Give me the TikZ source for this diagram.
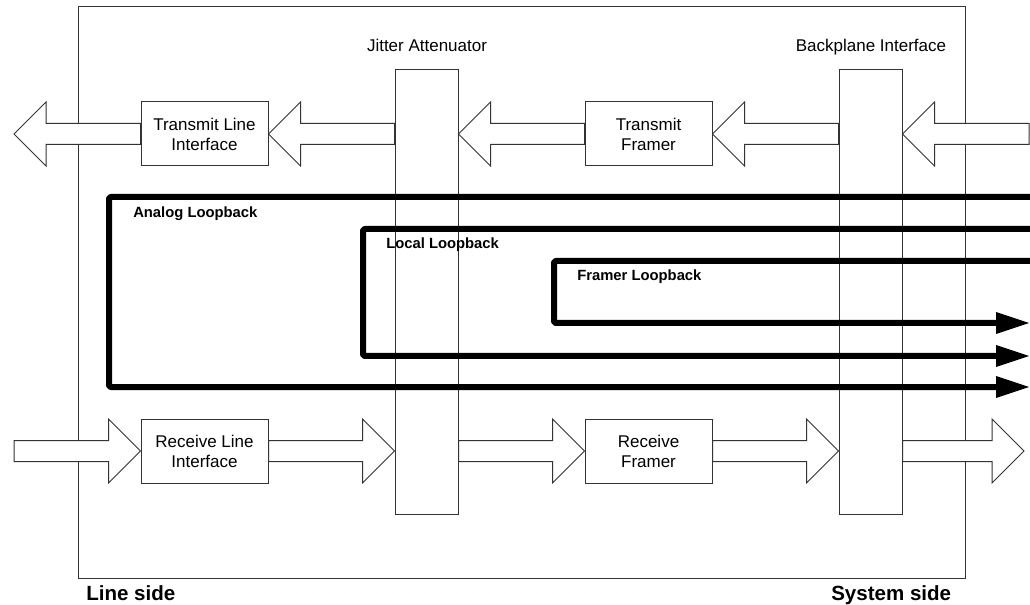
\documentclass[tikz,border=0pt]{standalone}
\usepackage{fontspec}
\setmainfont{Liberation Sans}
\usetikzlibrary{calc}
\newcommand\fatarrow[2]{%
  \filldraw[fat] let \p1=(#1), \p2=(#2), \n1={sign(\x1-\x2)} in
    (\x1,{\y2+7.875pt}) -- ({\x2+(\n1)*24pt},{\y2+7.875pt}) -- ({\x2+(\n1)*24pt},{\y2+24pt})
    -- (\x2,\y2) -- ({\x2+(\n1)*24pt},{\y2-24pt}) -- ({\x2+(\n1)*24pt},{\y2-7.875pt})
    -- (\x1,{\y2-7.875pt}) -- cycle;}
\newcommand\loophead[1]{\fill (#1) -- ++(-24.75pt,8.25pt) -- ++(0,-16.5pt) -- cycle;}
\begin{document}
\begin{tikzpicture}[x=0.75pt,y=-0.75pt,
  thinln/.style={draw=black!80, line width=0.75pt},
  blk/.style={thinln, inner sep=0pt, align=center, font=\fontsize{12.75}{15}\selectfont},
  fat/.style={draw=black!80, fill=white, line width=0.75pt, line join=miter},
  lb/.style={line width=4.5pt, line join=round, rounded corners=1.5pt},
  lbl/.style={font=\bfseries\fontsize{11.1}{13}\selectfont, anchor=base west, inner sep=0pt},
  side/.style={font=\bfseries\fontsize{15.4}{18}\selectfont, anchor=base west, inner sep=0pt},
  captext/.style={font=\fontsize{12.75}{15}\selectfont, inner sep=0pt, anchor=base}]
\useasboundingbox (0,0) rectangle (1030,605);
% frame
\node[thinln, minimum width=665.25pt, minimum height=428.25pt, inner sep=0pt] (frame) at (521.5,292.5) {};
% captions
\node[captext] (jal) at (427,52) {Jitter Attenuator};
\node[captext] (bpl) at (871,52) {Backplane Interface};
% blocks
\node[blk, minimum width=95.25pt, minimum height=48pt] (tli) at (204.5,134) {Transmit Line\\Interface};
\node[blk, minimum width=95.25pt, minimum height=48pt] (tf) at (648.5,134) {Transmit\\Framer};
\node[blk, minimum width=95.25pt, minimum height=48pt] (rli) at (204.5,451) {Receive Line\\Interface};
\node[blk, minimum width=95.25pt, minimum height=48pt] (rf) at (648.5,451) {Receive\\Framer};
\node[thinln, inner sep=0pt, minimum width=47.25pt, minimum height=333pt] (ja) at (426.5,292) {};
\node[thinln, inner sep=0pt, minimum width=47.25pt, minimum height=333pt] (bp) at (870.5,292) {};
% loopbacks
\coordinate (aIn) at (1031,197); \coordinate (aTL) at (109,197); \coordinate (aOut) at (1029,387);
\coordinate (lIn) at (1031,229); \coordinate (lTL) at (363,229); \coordinate (lOut) at (1029,356);
\coordinate (fIn) at (1031,261); \coordinate (fTL) at (554,261); \coordinate (fOut) at (1029,323);
\draw[lb] (aIn) -- (aTL) |- ([xshift=-20pt]aOut);
\draw[lb] (lIn) -- (lTL) |- ([xshift=-20pt]lOut);
\draw[lb] (fIn) -- (fTL) |- ([xshift=-20pt]fOut);
\loophead{aOut}
\loophead{lOut}
\loophead{fOut}
\node[lbl] (alab) at (133,218) {Analog Loopback};
\node[lbl] (llab) at (386,249) {Local Loopback};
\node[lbl] (flab) at (577,281) {Framer Loopback};
% side labels
\node[side] (ls) at (86,600) {Line side};
\node[side] (ss) at (831,600) {System side};
% wide arrows
\coordinate (txL) at (14,134); \coordinate (txR) at (1029,134);
\coordinate (rxL) at (14,451); \coordinate (rxR) at (1024,451);
\fatarrow{txR}{bp.east |- txR}
\fatarrow{bp.west |- tf.east}{tf.east}
\fatarrow{tf.west}{ja.east |- tf.west}
\fatarrow{ja.west |- tli.east}{tli.east}
\fatarrow{tli.west}{txL}
\fatarrow{rxL}{rli.west}
\fatarrow{rli.east}{ja.west |- rli.east}
\fatarrow{ja.east |- rf.west}{rf.west}
\fatarrow{rf.east}{bp.west |- rf.east}
\fatarrow{bp.east |- rxR}{rxR}
\end{tikzpicture}
\end{document}
